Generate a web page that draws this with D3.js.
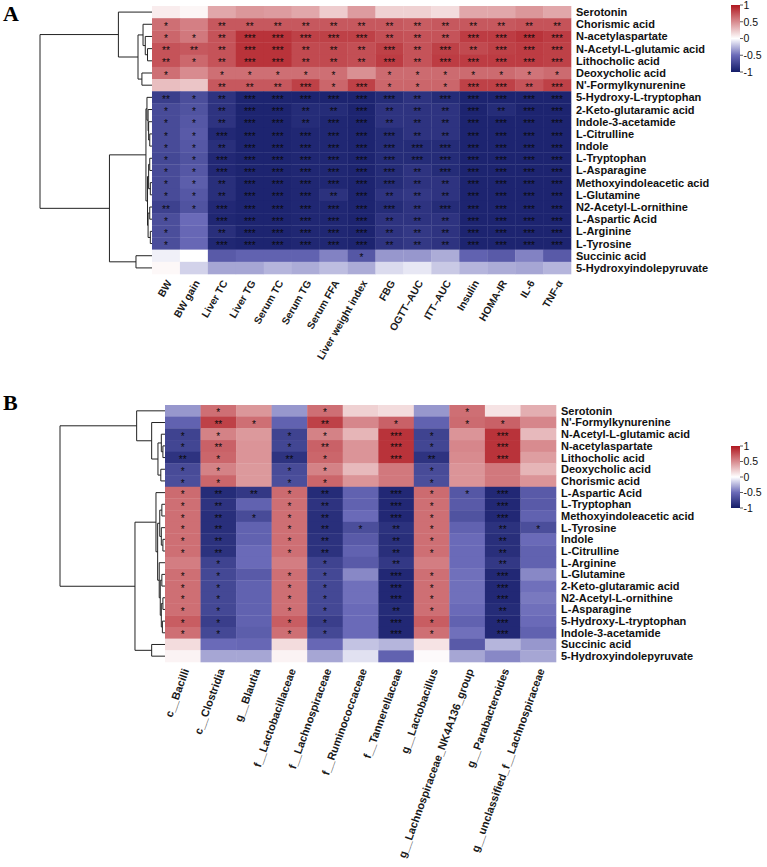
<!DOCTYPE html>
<html><head><meta charset="utf-8">
<script src="https://cdn.jsdelivr.net/npm/d3@7"></script>
<style>body{margin:0;background:#fff}</style>
</head><body><svg id="c" width="767" height="867"></svg>
<script>
// ---------------- DATA ----------------
const colsA = ["BW","BW gain","Liver TC","Liver TG","Serum TC","Serum TG","Serum FFA","Liver weight index","FBG","OGTT–AUC","ITT–AUC","Insulin","HOMA-IR","IL-6","TNF-α"];
const rowsA = ["Serotonin","Chorismic acid","N-acetylaspartate","N-Acetyl-L-glutamic acid","Lithocholic acid","Deoxycholic acid","N'-Formylkynurenine","5-Hydroxy-L-tryptophan","2-Keto-glutaramic acid","Indole-3-acetamide","L-Citrulline","Indole","L-Tryptophan","L-Asparagine","Methoxyindoleacetic acid","L-Glutamine","N2-Acetyl-L-ornithine","L-Aspartic Acid","L-Arginine","L-Tyrosine","Succinic acid","5-Hydroxyindolepyruvate"];
const valuesA = [
 [0.08,0.04,0.38,0.45,0.43,0.38,0.22,0.43,0.2,0.2,0.15,0.38,0.38,0.45,0.38],
 [0.62,0.55,0.72,0.72,0.72,0.72,0.72,0.72,0.72,0.7,0.72,0.72,0.72,0.74,0.74],
 [0.66,0.58,0.74,0.88,0.88,0.82,0.82,0.82,0.76,0.74,0.74,0.84,0.84,0.88,0.84],
 [0.74,0.72,0.74,0.88,0.88,0.78,0.78,0.76,0.82,0.74,0.82,0.78,0.82,0.84,0.82],
 [0.74,0.65,0.74,0.88,0.88,0.78,0.78,0.76,0.84,0.74,0.84,0.84,0.84,0.84,0.82],
 [0.62,0.5,0.62,0.62,0.62,0.62,0.62,0.48,0.64,0.64,0.64,0.64,0.64,0.6,0.64],
 [0.28,0.25,0.72,0.72,0.72,0.82,0.66,0.82,0.66,0.66,0.66,0.82,0.82,0.74,0.82],
 [-0.78,-0.68,-0.85,-0.95,-0.95,-0.95,-0.95,-0.95,-0.9,-0.85,-0.9,-0.95,-0.95,-0.95,-0.95],
 [-0.7,-0.65,-0.85,-0.95,-0.95,-0.9,-0.9,-0.95,-0.85,-0.85,-0.85,-0.95,-0.9,-0.95,-0.95],
 [-0.7,-0.62,-0.85,-0.95,-0.95,-0.9,-0.93,-0.95,-0.85,-0.85,-0.85,-0.95,-0.95,-0.95,-0.95],
 [-0.7,-0.6,-0.92,-0.95,-0.95,-0.93,-0.93,-0.95,-0.9,-0.85,-0.85,-0.95,-0.95,-0.95,-0.95],
 [-0.7,-0.62,-0.88,-0.95,-0.95,-0.93,-0.93,-0.95,-0.9,-0.9,-0.9,-0.95,-0.95,-0.95,-0.95],
 [-0.72,-0.65,-0.92,-0.95,-0.95,-0.93,-0.93,-0.95,-0.9,-0.9,-0.9,-0.95,-0.95,-0.95,-0.95],
 [-0.7,-0.62,-0.92,-0.95,-0.95,-0.93,-0.93,-0.95,-0.9,-0.85,-0.9,-0.95,-0.95,-0.95,-0.95],
 [-0.7,-0.58,-0.88,-0.95,-0.95,-0.93,-0.93,-0.95,-0.9,-0.85,-0.85,-0.95,-0.95,-0.95,-0.95],
 [-0.7,-0.62,-0.88,-0.95,-0.95,-0.93,-0.86,-0.95,-0.85,-0.82,-0.85,-0.95,-0.95,-0.95,-0.95],
 [-0.76,-0.65,-0.92,-0.95,-0.95,-0.93,-0.93,-0.95,-0.9,-0.85,-0.9,-0.95,-0.95,-0.95,-0.95],
 [-0.68,-0.5,-0.93,-0.95,-0.95,-0.93,-0.93,-0.95,-0.85,-0.85,-0.85,-0.95,-0.95,-0.95,-0.95],
 [-0.68,-0.52,-0.88,-0.95,-0.95,-0.93,-0.93,-0.95,-0.85,-0.82,-0.85,-0.95,-0.95,-0.95,-0.95],
 [-0.68,-0.52,-0.93,-0.95,-0.95,-0.93,-0.93,-0.95,-0.85,-0.82,-0.85,-0.95,-0.95,-0.95,-0.95],
 [-0.05,0.0,-0.6,-0.55,-0.55,-0.55,-0.42,-0.62,-0.35,-0.35,-0.28,-0.55,-0.6,-0.42,-0.6],
 [0.03,-0.15,-0.3,-0.3,-0.25,-0.28,-0.22,-0.28,-0.12,-0.08,-0.18,-0.25,-0.28,-0.3,-0.25]
];
const starsA = [
 [0,0,0,0,0,0,0,0,0,0,0,0,0,0,0],
 [1,0,2,2,2,2,2,2,2,2,2,2,2,2,2],
 [1,1,2,3,3,3,3,3,2,2,2,3,3,3,3],
 [2,2,2,3,3,2,2,2,3,2,3,2,3,3,3],
 [2,1,2,3,3,2,2,2,3,2,3,3,3,3,3],
 [1,0,1,1,1,1,1,0,1,1,1,1,1,1,1],
 [0,0,2,2,2,3,1,3,1,1,1,3,3,2,3],
 [2,1,2,3,3,3,3,3,3,2,3,3,3,3,3],
 [1,1,2,3,3,2,2,3,2,2,2,3,2,3,3],
 [1,1,2,3,3,2,3,3,2,2,2,3,3,3,3],
 [1,1,3,3,3,3,3,3,3,2,2,3,3,3,3],
 [1,1,2,3,3,3,3,3,3,3,3,3,3,3,3],
 [1,1,3,3,3,3,3,3,3,3,3,3,3,3,3],
 [1,1,3,3,3,3,3,3,3,2,3,3,3,3,3],
 [1,1,2,3,3,3,3,3,3,2,2,3,3,3,3],
 [1,1,2,3,3,3,2,3,2,2,2,3,3,3,3],
 [2,1,3,3,3,3,3,3,3,2,3,3,3,3,3],
 [1,0,3,3,3,3,3,3,2,2,2,3,3,3,3],
 [1,0,2,3,3,3,3,3,2,2,2,3,3,3,3],
 [1,0,3,3,3,3,3,3,2,2,2,3,3,3,3],
 [0,0,0,0,0,0,0,1,0,0,0,0,0,0,0],
 [0,0,0,0,0,0,0,0,0,0,0,0,0,0,0]
];
// dendrogram: [mergeHeight, left, right]; leaves are row indices
const treeA = [1.0,
  [0.30, 0, [0.125, [0.08, 1, [0.06, 2, [0.04, 3, 4]]], [0.09, 5, 6]]],
  [0.38, [0.054, [0.045, 7, [0.035, 8, [0.03, 9, [0.02, 10, 11]]]],
                 [0.04, [0.03, [0.02, 12, 13], [0.015, 14, 15]], [0.035, [0.02, 16, 17], [0.015, 18, 19]]]],
         [0.143, 20, 21]]];

const colsB = ["c__Bacilli","c__Clostridia","g__Blautia","f__Lactobacillaceae","f__Lachnospiraceae","f__Ruminococcaceae","f__Tannerellaceae","g__Lactobacillus","g__Lachnospiraceae_NK4A136_group","g__Parabacteroides","g__unclassified_f__Lachnospiraceae"];
const rowsB = ["Serotonin","N'-Formylkynurenine","N-Acetyl-L-glutamic acid","N-acetylaspartate","Lithocholic acid","Deoxycholic acid","Chorismic acid","L-Aspartic Acid","L-Tryptophan","Methoxyindoleacetic acid","L-Tyrosine","Indole","L-Citrulline","L-Arginine","L-Glutamine","2-Keto-glutaramic acid","N2-Acetyl-L-ornithine","L-Asparagine","5-Hydroxy-L-tryptophan","Indole-3-acetamide","Succinic acid","5-Hydroxyindolepyruvate"];
const valuesB = [
 [-0.35,0.62,0.45,-0.35,0.62,0.2,0.15,-0.35,0.62,0.12,0.35],
 [-0.55,0.82,0.62,-0.55,0.82,0.52,0.68,-0.55,0.64,0.68,0.52],
 [-0.75,0.54,0.44,-0.75,0.54,0.32,0.88,-0.75,0.46,0.88,0.3],
 [-0.73,0.68,0.46,-0.73,0.68,0.46,0.88,-0.73,0.52,0.88,0.5],
 [-0.85,0.66,0.46,-0.85,0.66,0.46,0.88,-0.85,0.5,0.88,0.42],
 [-0.7,0.54,0.44,-0.7,0.54,0.3,0.58,-0.7,0.46,0.58,0.32],
 [-0.68,0.66,0.44,-0.68,0.66,0.46,0.58,-0.68,0.46,0.58,0.46],
 [0.64,-0.9,-0.82,0.64,-0.9,-0.55,-0.92,0.64,-0.62,-0.92,-0.6],
 [0.62,-0.85,-0.55,0.62,-0.85,-0.55,-0.92,0.62,-0.6,-0.92,-0.6],
 [0.62,-0.88,-0.7,0.62,-0.88,-0.5,-0.92,0.62,-0.65,-0.92,-0.55],
 [0.62,-0.88,-0.55,0.62,-0.88,-0.68,-0.86,0.62,-0.55,-0.86,-0.68],
 [0.62,-0.86,-0.55,0.62,-0.86,-0.6,-0.88,0.62,-0.5,-0.88,-0.5],
 [0.62,-0.86,-0.5,0.62,-0.86,-0.55,-0.88,0.62,-0.5,-0.88,-0.55],
 [0.56,-0.75,-0.5,0.56,-0.75,-0.6,-0.82,0.56,-0.5,-0.82,-0.55],
 [0.62,-0.72,-0.6,0.62,-0.72,-0.4,-0.92,0.62,-0.48,-0.92,-0.4],
 [0.62,-0.72,-0.55,0.62,-0.72,-0.48,-0.92,0.62,-0.48,-0.92,-0.48],
 [0.62,-0.72,-0.55,0.62,-0.72,-0.48,-0.92,0.62,-0.48,-0.92,-0.45],
 [0.62,-0.72,-0.55,0.62,-0.72,-0.5,-0.9,0.62,-0.5,-0.9,-0.48],
 [0.7,-0.78,-0.55,0.7,-0.78,-0.5,-0.92,0.7,-0.55,-0.92,-0.5],
 [0.62,-0.72,-0.58,0.62,-0.72,-0.5,-0.92,0.62,-0.48,-0.92,-0.55],
 [0.15,-0.5,-0.52,0.15,-0.52,-0.2,-0.25,0.12,-0.6,-0.25,-0.35],
 [0.05,-0.3,-0.3,0.05,-0.3,-0.1,-0.55,0.02,-0.3,-0.4,-0.3]
];
const starsB = [
 [0,1,0,0,1,0,0,0,1,0,0],
 [0,2,1,0,2,0,1,0,1,1,0],
 [1,1,0,1,1,0,3,1,0,3,0],
 [1,2,0,1,2,0,3,1,0,3,0],
 [2,1,0,2,1,0,3,2,0,3,0],
 [1,1,0,1,1,0,0,1,0,0,0],
 [1,1,0,1,1,0,0,1,0,0,0],
 [1,2,2,1,2,0,3,1,1,3,0],
 [1,2,0,1,2,0,3,1,0,3,0],
 [1,2,1,1,2,0,3,1,0,3,0],
 [1,2,0,1,2,1,2,1,0,2,1],
 [1,2,0,1,2,0,2,1,0,2,0],
 [1,2,0,1,2,0,2,1,0,2,0],
 [0,1,0,0,1,0,2,0,0,2,0],
 [1,1,0,1,1,0,3,1,0,3,0],
 [1,1,0,1,1,0,3,1,0,3,0],
 [1,1,0,1,1,0,3,1,0,3,0],
 [1,1,0,1,1,0,2,1,0,2,0],
 [1,1,0,1,1,0,3,1,0,3,0],
 [1,1,0,1,1,0,3,1,0,3,0],
 [0,0,0,0,0,0,0,0,0,0,0],
 [0,0,0,0,0,0,0,0,0,0,0]
];
const treeB = [1.0,
  [0.27, 0, [0.127, 1, [0.067, [0.035, 2, [0.02, 3, 4]], [0.04, 5, 6]]]],
  [0.286, [0.086, 7, [0.07, [0.05, [0.03, 8, 9], [0.035, 10, [0.02, 11, 12]]],
                              [0.055, 13, [0.045, [0.03, 14, 15], [0.035, [0.02, 16, 17], [0.025, 18, 19]]]]]],
          [0.127, 20, 21]]];
const legendTicks = [1, 0.5, 0, -0.5, -1];

// ---------------- DRAW ----------------
const svg = d3.select("#c");
const color = d3.scaleLinear().domain([-1, -0.5, 0, 1]).range(["#141c68", "#6a6ab8", "#ffffff", "#b0171f"]);
const FONT = "'Liberation Sans', Arial, sans-serif";

function panel(cfg) {
  const g = svg.append("g");
  const x = d3.scaleBand().domain(d3.range(cfg.cols.length)).range([cfg.x0, cfg.x1]);
  const y = d3.scaleBand().domain(d3.range(cfg.rows.length)).range([cfg.y0, cfg.y1]);
  const cells = [];
  cfg.values.forEach((r, i) => r.forEach((v, j) => cells.push({i, j, v, s: cfg.stars[i][j]})));
  g.selectAll("rect.cell").data(cells).enter().append("rect")
    .attr("x", d => x(d.j)).attr("y", d => y(d.i))
    .attr("width", x.bandwidth() + 0.3).attr("height", y.bandwidth() + 0.3)
    .attr("fill", d => color(d.v));
  g.selectAll("text.star").data(cells.filter(d => d.s > 0)).enter().append("text")
    .attr("x", d => x(d.j) + x.bandwidth() / 2)
    .attr("y", d => y(d.i) + y.bandwidth() / 2 + 5.6)
    .attr("text-anchor", "middle").attr("font-family", FONT).attr("font-size", 10)
    .attr("fill", "#0a0a0a").text(d => "*".repeat(d.s));
  // row labels
  g.selectAll("text.row").data(cfg.rows).enter().append("text")
    .attr("x", cfg.x1 + 5).attr("y", (d, i) => y(i) + y.bandwidth() / 2)
    .attr("dy", "0.36em").attr("font-family", FONT).attr("font-weight", "bold")
    .attr("font-size", 11).attr("fill", "#111").text(d => d);
  // column labels
  g.selectAll("text.col").data(cfg.cols).enter().append("text")
    .attr("transform", (d, j) => `translate(${x(j) + x.bandwidth() / 2 + 3},${cfg.y1 + 7}) rotate(${cfg.angle})`)
    .attr("text-anchor", "end").attr("dy", "0.35em").attr("font-family", FONT)
    .attr("font-weight", "bold").attr("font-size", cfg.colSize).attr("fill", "#1a1a1a").text(d => d);
  // dendrogram
  const hx = d3.scaleLinear().domain([0, 1]).range([cfg.x0, cfg.rootX]);
  const paths = [];
  function walk(n) {
    if (typeof n === "number") return {x: cfg.x0, y: y(n) + y.bandwidth() / 2};
    const a = walk(n[1]), b = walk(n[2]);
    const nx = hx(n[0]);
    paths.push(`M${a.x},${a.y}H${nx}V${b.y}H${b.x}`);
    return {x: nx, y: (a.y + b.y) / 2};
  }
  walk(cfg.tree);
  g.selectAll("path.dend").data(paths).enter().append("path")
    .attr("d", d => d).attr("fill", "none").attr("stroke", "#222").attr("stroke-width", 1);
  // panel letter
  g.append("text").attr("x", cfg.letterX).attr("y", cfg.letterY)
    .attr("font-family", "'Liberation Serif','Times New Roman',serif").attr("font-weight", "bold")
    .attr("font-size", 22).attr("fill", "#000").text(cfg.letter);
  // legend
  const gid = "grad" + cfg.letter;
  const grad = svg.append("defs").append("linearGradient").attr("id", gid)
    .attr("x1", 0).attr("y1", 0).attr("x2", 0).attr("y2", 1);
  d3.range(0, 1.0001, 0.05).forEach(t => grad.append("stop").attr("offset", t).attr("stop-color", color(1 - 2 * t)));
  const ly = d3.scaleLinear().domain([1, -1]).range([cfg.legY, cfg.legY + cfg.legH]);
  g.append("rect").attr("x", cfg.legX).attr("y", cfg.legY).attr("width", 9).attr("height", cfg.legH)
    .attr("fill", `url(#${gid})`);
  const lt = g.selectAll("g.lt").data(legendTicks).enter().append("g");
  lt.append("line").attr("x1", cfg.legX + 9).attr("x2", cfg.legX + 12)
    .attr("y1", d => ly(d)).attr("y2", d => ly(d)).attr("stroke", "#333").attr("stroke-width", 0.8);
  lt.append("text").attr("x", cfg.legX + 12.5).attr("y", d => ly(d)).attr("dy", "0.36em")
    .attr("font-family", FONT).attr("font-size", 10.5).attr("fill", "#111").text(d => d);
}

panel({cols: colsA, rows: rowsA, values: valuesA, stars: starsA, tree: treeA,
  x0: 152, x1: 571, y0: 6, y1: 274, rootX: 40, angle: -60, colSize: 10.3,
  letter: "A", letterX: 3, letterY: 21, legX: 731, legY: 5, legH: 67});
panel({cols: colsB, rows: rowsB, values: valuesB, stars: starsB, tree: treeB,
  x0: 165, x1: 556, y0: 405, y1: 662, rootX: 60, angle: -70, colSize: 11,
  letter: "B", letterX: 3, letterY: 410, legX: 731, legY: 446, legH: 62});
</script></body></html>
